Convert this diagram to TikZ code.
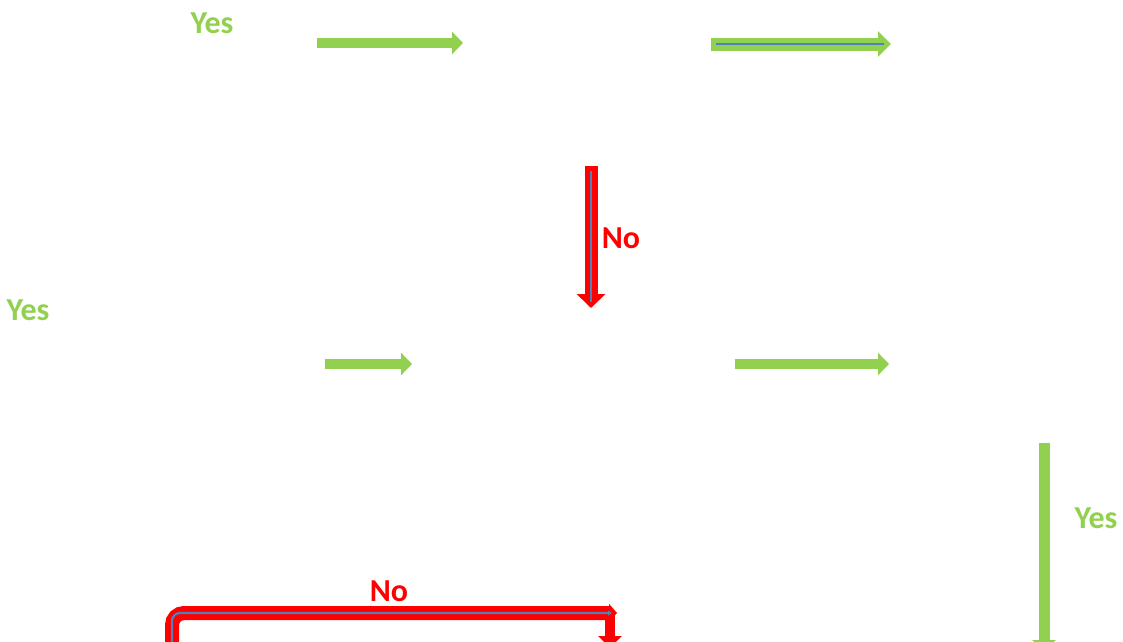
\documentclass[tikz,border=0pt]{standalone}
\usepackage{fontspec}
\setmainfont{Carlito}
\usetikzlibrary{arrows.meta}
\definecolor{okgreen}{HTML}{92D050}
\definecolor{nored}{HTML}{FF0000}
\definecolor{midblue}{HTML}{4F81BD}
\tikzset{
  yesarrow/.style={draw=okgreen, line width=10pt, -{Triangle[width=22pt,length=11pt]}},
  yesarrowb/.style={draw=okgreen, line width=13pt, -{Triangle[width=25pt,length=13pt]}},
  noarrow/.style={draw=nored, line width=13pt, -{Triangle[width=28pt,length=14pt]}},
  noelbow/.style={draw=nored, line width=14pt, rounded corners=12pt, -{Triangle[width=18pt,length=8pt]}},
  bluecore/.style={draw=midblue, line width=2.2pt},
  yeslbl/.style={text=okgreen, font=\fontsize{32}{34}\selectfont\bfseries, inner sep=0pt},
  nolbl/.style={text=nored, font=\fontsize{32}{34}\selectfont\bfseries, inner sep=0pt}
}
\begin{document}
\begin{tikzpicture}[x=1pt,y=-1pt]
\useasboundingbox (0,0) rectangle (1123,641);
\clip (0,0) rectangle (1123,641);
% endpoints
\coordinate (a1s) at (317,43);  \coordinate (a1e) at (463,43);
\coordinate (a2s) at (711,44);  \coordinate (a2e) at (891,44);
\coordinate (a2bs) at (716,44); \coordinate (a2be) at (884,44);
\coordinate (a3s) at (591,166); \coordinate (a3e) at (591,308);
\coordinate (a3bs) at (591,171); \coordinate (a3be) at (591,302);
\coordinate (a4s) at (325,364); \coordinate (a4e) at (412,364);
\coordinate (a5s) at (735,364); \coordinate (a5e) at (889,364);
\coordinate (a6s) at (1044,443); \coordinate (a6e) at (1044,651);
\coordinate (a7s) at (172,650); \coordinate (a7c) at (172,613); \coordinate (a7e) at (617,613);
\coordinate (a7bs) at (172,645); \coordinate (a7be) at (612,613);
\coordinate (a8s) at (610,613); \coordinate (a8e) at (610,648);
% connectors
\draw[yesarrow] (a1s) -- (a1e);
\draw[yesarrowb] (a2s) -- (a2e);
\draw[bluecore] (a2bs) -- (a2be);
\draw[noarrow] (a3s) -- (a3e);
\draw[bluecore] (a3bs) -- (a3be);
\draw[yesarrow] (a4s) -- (a4e);
\draw[yesarrow] (a5s) -- (a5e);
\draw[draw=okgreen, line width=11pt, -{Triangle[width=23pt,length=11pt]}] (a6s) -- (a6e);
\draw[draw=nored, line width=10pt, -{Triangle[width=23pt,length=12pt]}] (a8s) -- (a8e);
\draw[noelbow] (a7s) -- (a7c) -- (a7e);
\draw[bluecore, rounded corners=8pt, -{Triangle[width=5pt,length=4pt]}] (a7bs) -- (a7c) -- (a7be);
% labels
\node[yeslbl] (l1) at (212,23) {Yes};
\node[nolbl] (l2) at (621,238) {No};
\node[yeslbl] (l3) at (28,310) {Yes};
\node[yeslbl] (l4) at (1096,518) {Yes};
\node[nolbl] (l5) at (389,591) {No};
\end{tikzpicture}
\end{document}
